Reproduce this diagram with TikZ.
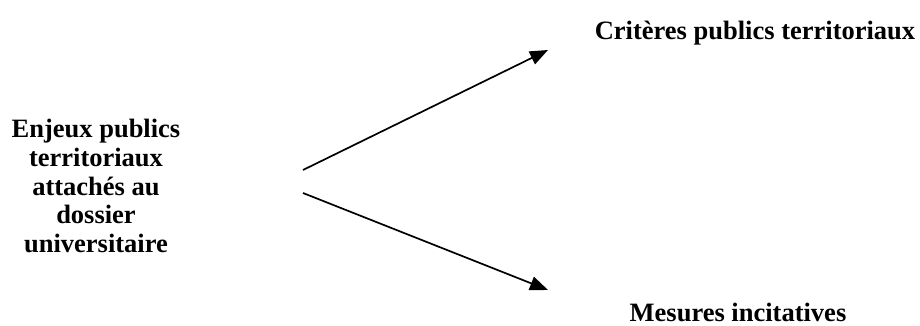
\documentclass[tikz,border=0pt]{standalone}
\usepackage{fontspec}
\setmainfont{Liberation Serif}
\usepackage{tikz}
\usetikzlibrary{arrows.meta}

\begin{document}
\begin{tikzpicture}[x=1pt, y=1pt, >={Triangle[length=18pt, width=14pt]},
  lbl/.style={font=\fontsize{26.5}{28.75}\selectfont\bfseries, align=center, inner sep=0pt}]
  \useasboundingbox (0, 0) rectangle (920, 326);

  \node[lbl] (enjeux) at (96, 140) {Enjeux publics\\territoriaux\\attachés au\\dossier\\universitaire};
  \node[lbl] (criteres) at (755, 293) {Critères publics territoriaux};
  \node[lbl] (mesures) at (738, 14) {Mesures incitatives};

  \coordinate (haut0) at (303, 156);
  \coordinate (haut1) at (548, 276);
  \coordinate (bas0) at (303, 133);
  \coordinate (bas1) at (548, 36);

  \draw[line width=1.7pt, ->] (haut0) -- (haut1);
  \draw[line width=1.7pt, ->] (bas0) -- (bas1);
\end{tikzpicture}
\end{document}
